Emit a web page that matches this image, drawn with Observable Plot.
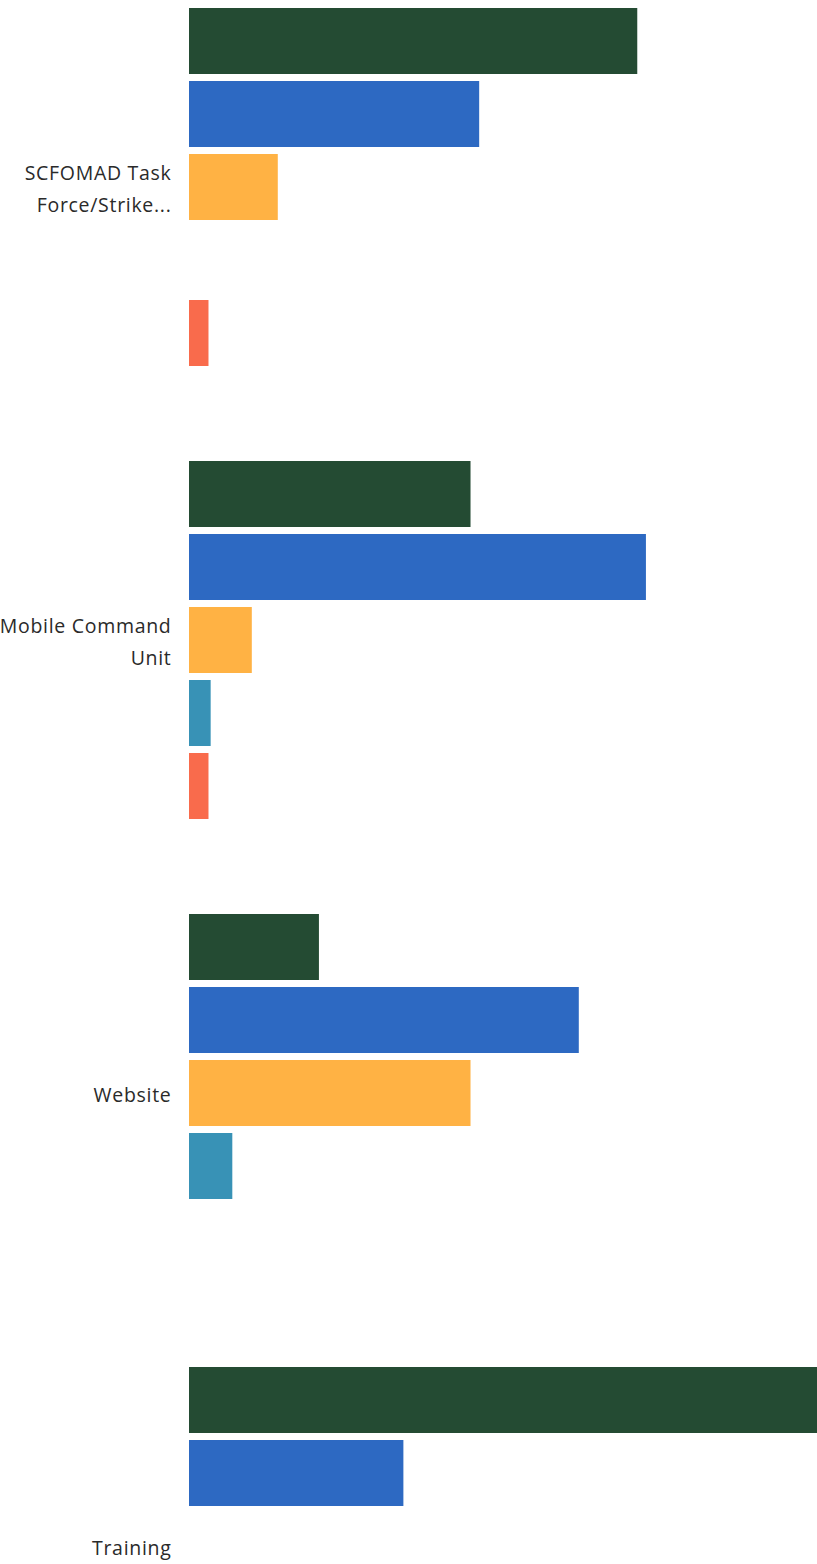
<!DOCTYPE html>
<html>
<head>
<meta charset="utf-8">
<script src="https://cdn.jsdelivr.net/npm/d3@7"></script>
<script src="https://cdn.jsdelivr.net/npm/@observablehq/plot@0.6"></script>
<style>
  html, body { margin: 0; padding: 0; background: #fff; overflow: hidden; }
  #chart svg { overflow: hidden; display: block; }
  .cat-labels text { letter-spacing: 0.7px; }
</style>
</head>
<body>
<div id="chart"></div>
<script>
// Categories (as shown, truncated like the original) and display labels
const categories = ["SCFOMAD Task Force/Strike...", "Mobile Command Unit", "Website", "Training"];
const categoryLabels = ["SCFOMAD Task\nForce/Strike...", "Mobile Command\nUnit", "Website", "Training"];

// Series (legend not visible in the crop)
const series = ["Series 1", "Series 2", "Series 3", "Series 4", "Series 5"];
const seriesColors = ["#244b33", "#2d69c2", "#ffb244", "#3892b6", "#f96b4c"];

// Values per category, one array per series
const series1 = [20.7, 13.0, 6.0, 31.0];
const series2 = [13.4, 21.1, 18.0, 9.9];
const series3 = [4.1, 2.9, 13.0, 0];
const series4 = [0, 1.0, 2.0, 0];
const series5 = [0.9, 0.9, 0, 0];

const seriesValues = [series1, series2, series3, series4, series5];
const table = [];
categories.forEach((c, i) => {
  series.forEach((s, j) => table.push({category: c, series: s, value: seriesValues[j][i]}));
});
const labelOf = new Map(categories.map((c, i) => [c, categoryLabels[i]]));

const chart = Plot.plot({
  width: 817,
  height: 1564,
  marginLeft: 189,
  marginRight: 0,
  marginTop: 0,
  marginBottom: 0,
  style: {background: "#fff"},
  x: {domain: [0, 29], axis: null},
  y: {domain: series, axis: null, paddingInner: 0.093, paddingOuter: 0},
  fy: {domain: categories, axis: null, range: [8, 1726], paddingInner: 0.208, paddingOuter: 0},
  color: {domain: series, range: seriesColors},
  marks: [
    Plot.barX(table, {fy: "category", y: "series", x: "value", fill: "series", clip: true}),
    Plot.text(categories, {
      fy: d => d,
      frameAnchor: "left",
      text: d => labelOf.get(d),
      textAnchor: "end",
      dx: -18,
      dy: -2,
      fontSize: 19.5,
      lineHeight: 1.62,
      fill: "#2a2a2a",
      fontFamily: "Open Sans",
      className: "cat-labels"
    })
  ]
});
document.getElementById("chart").appendChild(chart);
</script>
</body>
</html>
